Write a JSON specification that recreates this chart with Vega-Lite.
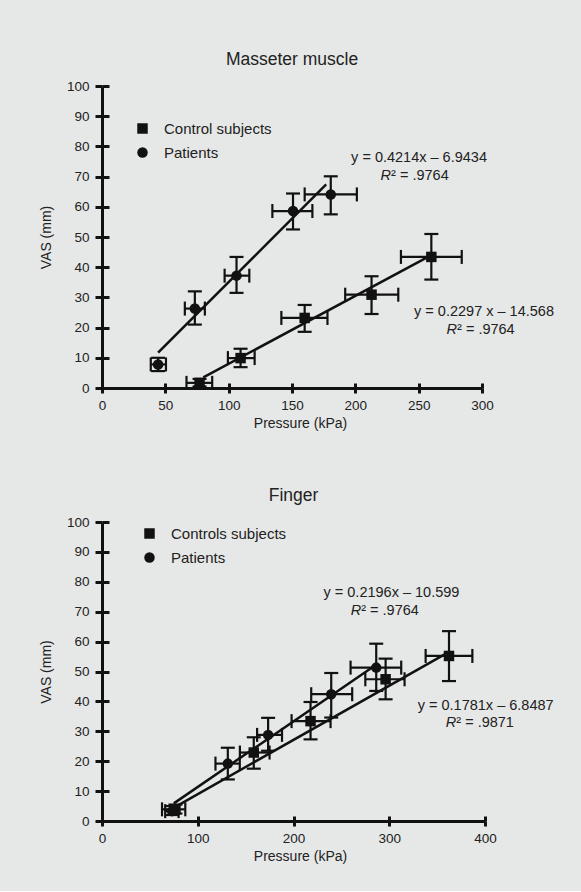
{
  "$schema": "https://vega.github.io/schema/vega-lite/v6.json",
  "background": "#e6e8e7",
  "padding": {"left": 39, "top": 50, "right": 27, "bottom": 27},
  "config": {
    "font": "Liberation Sans",
    "view": {"stroke": null},
    "axis": {"domainColor": "#111", "domainWidth": 3, "tickColor": "#111", "tickWidth": 3, "labelColor": "#222", "labelFontSize": 13.5, "labelFont": "Liberation Sans", "titleFont": "Liberation Sans", "titleFontSize": 14, "titleFontWeight": "normal", "titleColor": "#222", "grid": false, "labelFlush": false},
    "title": {"fontSize": 17.5, "fontWeight": "normal", "color": "#222", "font": "Liberation Sans", "offset": 11, "frame": "group"},
    "legend": {"title": null, "orient": "none", "padding": 0, "labelFontSize": 15, "labelFont": "Liberation Sans", "labelColor": "#222", "symbolSize": 110, "symbolFillColor": "#111", "symbolStrokeColor": "#111", "symbolStrokeWidth": 0, "symbolOpacity": 1, "rowPadding": 8, "labelOffset": 14}
  },
  "datasets": {
    "masseter": [
      {"group": "Patients", "x": 44.3, "y": 7.8, "xlo": 38.5, "xhi": 50.5, "ylo": 5.6, "yhi": 10},
      {"group": "Patients", "x": 73.3, "y": 26.3, "xlo": 65.4, "xhi": 81.2, "ylo": 21, "yhi": 32},
      {"group": "Patients", "x": 106.2, "y": 37.2, "xlo": 96.8, "xhi": 116.3, "ylo": 31.5, "yhi": 43.4},
      {"group": "Patients", "x": 150.8, "y": 58.6, "xlo": 134.5, "xhi": 166.1, "ylo": 52.5, "yhi": 64.4},
      {"group": "Patients", "x": 180.6, "y": 64.1, "xlo": 160, "xhi": 201.2, "ylo": 57.5, "yhi": 70.1},
      {"group": "Control subjects", "x": 77, "y": 1.7, "xlo": 66.7, "xhi": 87, "ylo": 0.5, "yhi": 3},
      {"group": "Control subjects", "x": 109.4, "y": 9.9, "xlo": 99.4, "xhi": 120.5, "ylo": 6.9, "yhi": 13},
      {"group": "Control subjects", "x": 160, "y": 23.2, "xlo": 141.6, "xhi": 178, "ylo": 18.6, "yhi": 27.5},
      {"group": "Control subjects", "x": 212.8, "y": 30.9, "xlo": 192, "xhi": 233.9, "ylo": 24.5, "yhi": 37},
      {"group": "Control subjects", "x": 260, "y": 43.4, "xlo": 236, "xhi": 284, "ylo": 35.9, "yhi": 51}
    ],
    "masseterLines": [
      {"group": "Patients", "x": 44.3, "y": 11.7},
      {"group": "Patients", "x": 177, "y": 67.4},
      {"group": "Control subjects", "x": 80, "y": 3.5},
      {"group": "Control subjects", "x": 260, "y": 44}
    ],
    "masseterEq": [
      {"kind": "eq", "x": 250.3, "y": 76.2, "t": "y = 0.4214x – 6.9434"},
      {"kind": "r2", "x": 228.2, "y": 70.2, "t": "² = .9764"},
      {"kind": "eq", "x": 301.6, "y": 25.3, "t": "y = 0.2297 x – 14.568"},
      {"kind": "r2", "x": 280.3, "y": 19.2, "t": "² = .9764"}
    ],
    "finger": [
      {"group": "Controls subjects", "x": 76.7, "y": 3.9, "xlo": 62.7, "xhi": 87, "ylo": 2.5, "yhi": 5.5},
      {"group": "Controls subjects", "x": 158.5, "y": 22.9, "xlo": 144, "xhi": 175, "ylo": 17.5, "yhi": 28},
      {"group": "Controls subjects", "x": 217.8, "y": 33.4, "xlo": 198, "xhi": 238.7, "ylo": 27.3, "yhi": 39.8},
      {"group": "Controls subjects", "x": 296.2, "y": 47.4, "xlo": 275, "xhi": 316, "ylo": 40.7, "yhi": 54.3},
      {"group": "Controls subjects", "x": 362.4, "y": 55.2, "xlo": 338, "xhi": 386.8, "ylo": 46.8, "yhi": 63.5},
      {"group": "Patients", "x": 73.2, "y": 3.3, "xlo": 66, "xhi": 80, "ylo": 2, "yhi": 5},
      {"group": "Patients", "x": 131.4, "y": 19.2, "xlo": 118.5, "xhi": 143.9, "ylo": 13.9, "yhi": 24.5},
      {"group": "Patients", "x": 173.5, "y": 28.8, "xlo": 162, "xhi": 188, "ylo": 23.5, "yhi": 34.5},
      {"group": "Patients", "x": 239.4, "y": 42.4, "xlo": 218.5, "xhi": 261.3, "ylo": 34.6, "yhi": 49.5},
      {"group": "Patients", "x": 286.4, "y": 51.3, "xlo": 259.6, "xhi": 312.5, "ylo": 43.5, "yhi": 59.3}
    ],
    "fingerLines": [
      {"group": "Patients", "x": 75, "y": 5.9},
      {"group": "Patients", "x": 287, "y": 52.4},
      {"group": "Controls subjects", "x": 78, "y": 5},
      {"group": "Controls subjects", "x": 362, "y": 56.5}
    ],
    "fingerEq": [
      {"kind": "eq", "x": 302.3, "y": 76.4, "t": "y = 0.2196x – 10.599"},
      {"kind": "r2", "x": 270.7, "y": 70.2, "t": "² = .9764"},
      {"kind": "eq", "x": 400.7, "y": 38.5, "t": "y = 0.1781x – 6.8487"},
      {"kind": "r2", "x": 370, "y": 32.9, "t": "² = .9871"}
    ]
  },
  "resolve": {"scale": {"shape": "independent"}, "legend": {"shape": "independent"}},
  "spacing": 55,
  "vconcat": [
    {
      "title": "Masseter muscle",
      "width": 380,
      "height": 302,
      "resolve": {"axis": {"x": "independent", "y": "independent"}},
      "layer": [
        {
          "data": {"name": "masseter"},
          "mark": {"type": "errorbar", "color": "#111", "opacity": 1, "thickness": 2.2, "rule": {"color": "#111", "opacity": 1, "strokeWidth": 2.2}, "ticks": {"size": 14, "thickness": 2.2, "color": "#111", "opacity": 1}},
          "encoding": {
            "x": {"field": "x", "type": "quantitative", "scale": {"domain": [0, 300], "nice": false}, "axis": null},
            "y": {"field": "ylo", "type": "quantitative", "scale": {"domain": [0, 100], "nice": false}, "axis": null},
            "y2": {"field": "yhi"}
          }
        },
        {
          "data": {"name": "masseter"},
          "mark": {"type": "errorbar", "color": "#111", "opacity": 1, "thickness": 2.2, "rule": {"color": "#111", "opacity": 1, "strokeWidth": 2.2}, "ticks": {"size": 14, "thickness": 2.2, "color": "#111", "opacity": 1}},
          "encoding": {
            "y": {"field": "y", "type": "quantitative", "scale": {"domain": [0, 100], "nice": false}, "axis": null},
            "x": {"field": "xlo", "type": "quantitative", "scale": {"domain": [0, 300], "nice": false}, "axis": null},
            "x2": {"field": "xhi"}
          }
        },
        {
          "data": {"name": "masseterLines"},
          "mark": {"type": "line", "color": "#111", "strokeWidth": 2.5},
          "encoding": {
            "x": {"field": "x", "type": "quantitative", "scale": {"domain": [0, 300], "nice": false}, "axis": {"orient": "bottom", "values": [0, 50, 100, 150, 200, 250, 300], "tickSize": -5, "labels": false, "domain": false, "title": null}},
            "y": {"field": "y", "type": "quantitative", "scale": {"domain": [0, 100], "nice": false}, "axis": {"orient": "left", "values": [0, 10, 20, 30, 40, 50, 60, 70, 80, 90, 100], "tickSize": -7, "labels": false, "domain": false, "title": null}},
            "detail": {"field": "group"}
          }
        },
        {
          "data": {"name": "masseter"},
          "mark": {"type": "point", "filled": true, "color": "#111", "size": 110, "opacity": 1},
          "encoding": {
            "x": {"field": "x", "type": "quantitative", "scale": {"domain": [0, 300], "nice": false}, "axis": {"orient": "bottom", "values": [0, 50, 100, 150, 200, 250, 300], "title": "Pressure (kPa)", "tickSize": 5, "labelPadding": 5, "titlePadding": 5, "titleX": 198}},
            "y": {"field": "y", "type": "quantitative", "scale": {"domain": [0, 100], "nice": false}, "axis": {"orient": "left", "values": [0, 10, 20, 30, 40, 50, 60, 70, 80, 90, 100], "title": "VAS (mm)", "tickSize": 7, "labelPadding": 6, "titlePadding": 13}},
            "shape": {"field": "group", "type": "nominal", "scale": {"domain": ["Control subjects", "Patients"], "range": ["square", "circle"]}, "legend": {"legendX": 33, "legendY": 35}}
          }
        },
        {
          "data": {"name": "masseterEq"},
          "transform": [{"filter": "datum.kind === 'eq'"}],
          "mark": {"type": "text", "align": "center", "baseline": "middle", "fontSize": 14.5, "color": "#222"},
          "encoding": {
            "x": {"field": "x", "type": "quantitative", "scale": {"domain": [0, 300], "nice": false}, "axis": null},
            "y": {"field": "y", "type": "quantitative", "scale": {"domain": [0, 100], "nice": false}, "axis": null},
            "text": {"field": "t"}
          }
        },
        {
          "data": {"name": "masseterEq"},
          "transform": [{"filter": "datum.kind === 'r2'"}],
          "mark": {"type": "text", "align": "left", "baseline": "middle", "fontSize": 14.5, "color": "#222"},
          "encoding": {
            "x": {"field": "x", "type": "quantitative", "scale": {"domain": [0, 300], "nice": false}, "axis": null},
            "y": {"field": "y", "type": "quantitative", "scale": {"domain": [0, 100], "nice": false}, "axis": null},
            "text": {"field": "t"}
          }
        },
        {
          "data": {"name": "masseterEq"},
          "transform": [{"filter": "datum.kind === 'r2'"}],
          "mark": {"type": "text", "align": "right", "baseline": "middle", "fontSize": 14.5, "fontStyle": "italic", "color": "#222"},
          "encoding": {
            "x": {"field": "x", "type": "quantitative", "scale": {"domain": [0, 300], "nice": false}, "axis": null},
            "y": {"field": "y", "type": "quantitative", "scale": {"domain": [0, 100], "nice": false}, "axis": null},
            "text": {"value": "R"}
          }
        }
      ]
    },
    {
      "title": "Finger",
      "width": 383,
      "height": 299,
      "resolve": {"axis": {"x": "independent", "y": "independent"}},
      "layer": [
        {
          "data": {"name": "finger"},
          "mark": {"type": "errorbar", "color": "#111", "opacity": 1, "thickness": 2.2, "rule": {"color": "#111", "opacity": 1, "strokeWidth": 2.2}, "ticks": {"size": 14, "thickness": 2.2, "color": "#111", "opacity": 1}},
          "encoding": {
            "x": {"field": "x", "type": "quantitative", "scale": {"domain": [0, 400], "nice": false}, "axis": null},
            "y": {"field": "ylo", "type": "quantitative", "scale": {"domain": [0, 100], "nice": false}, "axis": null},
            "y2": {"field": "yhi"}
          }
        },
        {
          "data": {"name": "finger"},
          "mark": {"type": "errorbar", "color": "#111", "opacity": 1, "thickness": 2.2, "rule": {"color": "#111", "opacity": 1, "strokeWidth": 2.2}, "ticks": {"size": 14, "thickness": 2.2, "color": "#111", "opacity": 1}},
          "encoding": {
            "y": {"field": "y", "type": "quantitative", "scale": {"domain": [0, 100], "nice": false}, "axis": null},
            "x": {"field": "xlo", "type": "quantitative", "scale": {"domain": [0, 400], "nice": false}, "axis": null},
            "x2": {"field": "xhi"}
          }
        },
        {
          "data": {"name": "fingerLines"},
          "mark": {"type": "line", "color": "#111", "strokeWidth": 2.5},
          "encoding": {
            "x": {"field": "x", "type": "quantitative", "scale": {"domain": [0, 400], "nice": false}, "axis": {"orient": "bottom", "values": [0, 100, 200, 300, 400], "tickSize": -5, "labels": false, "domain": false, "title": null}},
            "y": {"field": "y", "type": "quantitative", "scale": {"domain": [0, 100], "nice": false}, "axis": {"orient": "left", "values": [0, 10, 20, 30, 40, 50, 60, 70, 80, 90, 100], "tickSize": -7, "labels": false, "domain": false, "title": null}},
            "detail": {"field": "group"}
          }
        },
        {
          "data": {"name": "finger"},
          "mark": {"type": "point", "filled": true, "color": "#111", "size": 110, "opacity": 1},
          "encoding": {
            "x": {"field": "x", "type": "quantitative", "scale": {"domain": [0, 400], "nice": false}, "axis": {"orient": "bottom", "values": [0, 100, 200, 300, 400], "title": "Pressure (kPa)", "tickSize": 5, "labelPadding": 5, "titlePadding": 5, "titleX": 198}},
            "y": {"field": "y", "type": "quantitative", "scale": {"domain": [0, 100], "nice": false}, "axis": {"orient": "left", "values": [0, 10, 20, 30, 40, 50, 60, 70, 80, 90, 100], "title": "VAS (mm)", "tickSize": 7, "labelPadding": 6, "titlePadding": 13}},
            "shape": {"field": "group", "type": "nominal", "scale": {"domain": ["Controls subjects", "Patients"], "range": ["square", "circle"]}, "legend": {"legendX": 40, "legendY": 4}}
          }
        },
        {
          "data": {"name": "fingerEq"},
          "transform": [{"filter": "datum.kind === 'eq'"}],
          "mark": {"type": "text", "align": "center", "baseline": "middle", "fontSize": 14.5, "color": "#222"},
          "encoding": {
            "x": {"field": "x", "type": "quantitative", "scale": {"domain": [0, 400], "nice": false}, "axis": null},
            "y": {"field": "y", "type": "quantitative", "scale": {"domain": [0, 100], "nice": false}, "axis": null},
            "text": {"field": "t"}
          }
        },
        {
          "data": {"name": "fingerEq"},
          "transform": [{"filter": "datum.kind === 'r2'"}],
          "mark": {"type": "text", "align": "left", "baseline": "middle", "fontSize": 14.5, "color": "#222"},
          "encoding": {
            "x": {"field": "x", "type": "quantitative", "scale": {"domain": [0, 400], "nice": false}, "axis": null},
            "y": {"field": "y", "type": "quantitative", "scale": {"domain": [0, 100], "nice": false}, "axis": null},
            "text": {"field": "t"}
          }
        },
        {
          "data": {"name": "fingerEq"},
          "transform": [{"filter": "datum.kind === 'r2'"}],
          "mark": {"type": "text", "align": "right", "baseline": "middle", "fontSize": 14.5, "fontStyle": "italic", "color": "#222"},
          "encoding": {
            "x": {"field": "x", "type": "quantitative", "scale": {"domain": [0, 400], "nice": false}, "axis": null},
            "y": {"field": "y", "type": "quantitative", "scale": {"domain": [0, 100], "nice": false}, "axis": null},
            "text": {"value": "R"}
          }
        }
      ]
    }
  ]
}
